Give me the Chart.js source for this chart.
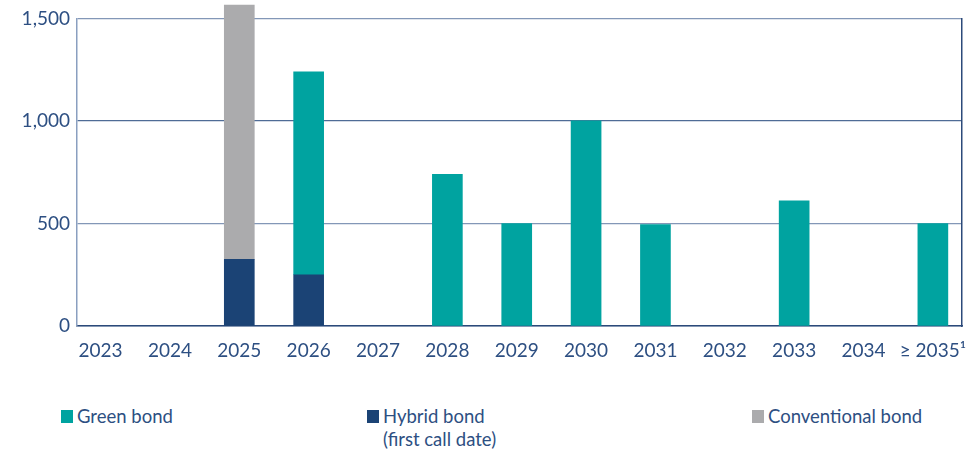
<!DOCTYPE html>
<html>
<head>
<meta charset="utf-8">
<script src="https://cdn.jsdelivr.net/npm/chart.js@4"></script>
<style>
  html, body { margin: 0; padding: 0; background: #fff; }
  body { width: 980px; height: 451px; position: relative; overflow: hidden; font-family: Lato, "Noto Sans", sans-serif; color: #2d4f82; }
  #wrap { position: absolute; left: 0; top: 0; width: 980px; height: 380px; }
  .leg { position: absolute; font-size: 18.5px; line-height: 23px; color: #2d4f82; }
  .sw { position: absolute; width: 12px; height: 13px; left: -16px; top: 5px; }
</style>
</head>
<body>
<div id="wrap"><canvas id="c" width="980" height="380"></canvas></div>
<div class="leg" style="left:77px; top:405px;"><span class="sw" style="background:#00a3a0"></span>Green bond</div>
<div class="leg" style="left:383px; top:405px;"><span class="sw" style="background:#1b4375"></span>Hybrid bond<br>(first call date)</div>
<div class="leg" style="left:768px; top:405px;"><span class="sw" style="background:#ababad"></span>Conventional bond</div>
<script>
const categories = ["2023","2024","2025","2026","2027","2028","2029","2030","2031","2032","2033","2034","\u2265 2035\u00B9"];
const hybridBond = [0, 0, 325, 250, 0, 0, 0, 0, 0, 0, 0, 0, 0];
const greenBond = [0, 0, 0, 990, 0, 740, 500, 1000, 495, 0, 610, 0, 500];
const conventionalBond = [0, 0, 1240, 0, 0, 0, 0, 0, 0, 0, 0, 0, 0];
const yTicks = [0, 500, 1000, 1500];

const toPts = arr => arr.map((v, i) => ({x: i, y: v === 0 ? null : v}));
const txt = '#2d4f82';
const font = {family: 'Lato, "Noto Sans", sans-serif', size: 19};

new Chart(document.getElementById('c'), {
  type: 'bar',
  data: {
    datasets: [
      {label: 'Hybrid bond (first call date)', data: toPts(hybridBond), backgroundColor: '#1b4375'},
      {label: 'Green bond', data: toPts(greenBond), backgroundColor: '#00a3a0'},
      {label: 'Conventional bond', data: toPts(conventionalBond), backgroundColor: '#ababad'}
    ]
  },
  options: {
    responsive: false,
    animation: false,
    clip: false,
    barThickness: 30,
    layout: {padding: {top: 18, right: 18, left: 0, bottom: 0}},
    plugins: {legend: {display: false}, tooltip: {enabled: false}},
    scales: {
      x: {
        type: 'linear',
        offset: false,
        stacked: true,
        min: -0.34,
        max: 12.42,
        afterBuildTicks: s => { s.ticks = categories.map((c, i) => ({value: i})); },
        afterFit: s => { s.height = 54; },
        grid: {display: false},
        border: {display: true, color: '#2c4a7a', width: 1.5},
        ticks: {
          autoSkip: false,
          maxRotation: 0,
          padding: 5,
          color: txt,
          font: font,
          callback: v => categories[v]
        }
      },
      y: {
        stacked: true,
        min: 0,
        max: 1500,
        afterBuildTicks: s => { s.ticks = yTicks.map(v => ({value: v})); },
        afterFit: s => { s.width = 77; },
        grid: {
          drawTicks: false,
          tickLength: 0,
          color: ctx => ctx.tick && ctx.tick.value === 1000 ? '#4f6c96' : '#8397b7',
          lineWidth: 1.2
        },
        border: {display: true, color: '#8a9fc0', width: 1.5},
        ticks: {
          padding: 7,
          color: txt,
          font: font,
          callback: v => v.toLocaleString('en-US')
        }
      },
      yRight: {
        position: 'right',
        min: 0,
        max: 1500,
        afterFit: s => { s.width = 0; },
        grid: {display: false, drawTicks: false},
        ticks: {display: false},
        border: {display: true, color: '#2c4a7a', width: 1.5}
      }
    }
  }
});
</script>
</body>
</html>
